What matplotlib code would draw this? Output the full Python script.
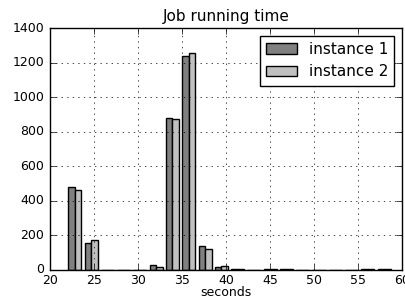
import matplotlib
matplotlib.use('Agg')
import matplotlib.pyplot as plt
import numpy as np

# histogram counts, 20 shared bins
bin_lo, bin_hi, n_bins = 21.9, 58.9, 20
inst1 = [478, 155, 0, 0, 0, 29, 881, 1238, 137, 17, 5, 0, 3, 3, 2, 0, 0, 0, 3, 3]
inst2 = [460, 172, 0, 0, 0, 18, 871, 1253, 120, 21, 5, 0, 3, 3, 0, 0, 0, 0, 3, 3]
labels = ['instance 1', 'instance 2']

plt.style.use('classic')
edges = np.linspace(bin_lo, bin_hi, n_bins + 1)
centers = (edges[:-1] + edges[1:]) / 2

fig = plt.figure(figsize=(4.06, 2.98), dpi=100)
ax = fig.add_axes([0.123, 0.094, 0.867, 0.812])
ax.hist([centers, centers], bins=edges, weights=[inst1, inst2],
        color=['#808080', '#c0c0c0'], label=labels, linewidth=1)
ax.set_xlim(20, 60)
ax.set_ylim(0, 1400)
ax.grid(True)
ax.tick_params(labelsize=9)
ax.tick_params(axis='x', pad=3)
ax.set_title('Job running time', fontsize=11)
ax.set_xlabel('seconds', fontsize=9)
ax.xaxis.set_label_coords(0.5, -0.068)
ax.legend(loc='upper right', fontsize=11)
fig.savefig('out.png', dpi=100)
